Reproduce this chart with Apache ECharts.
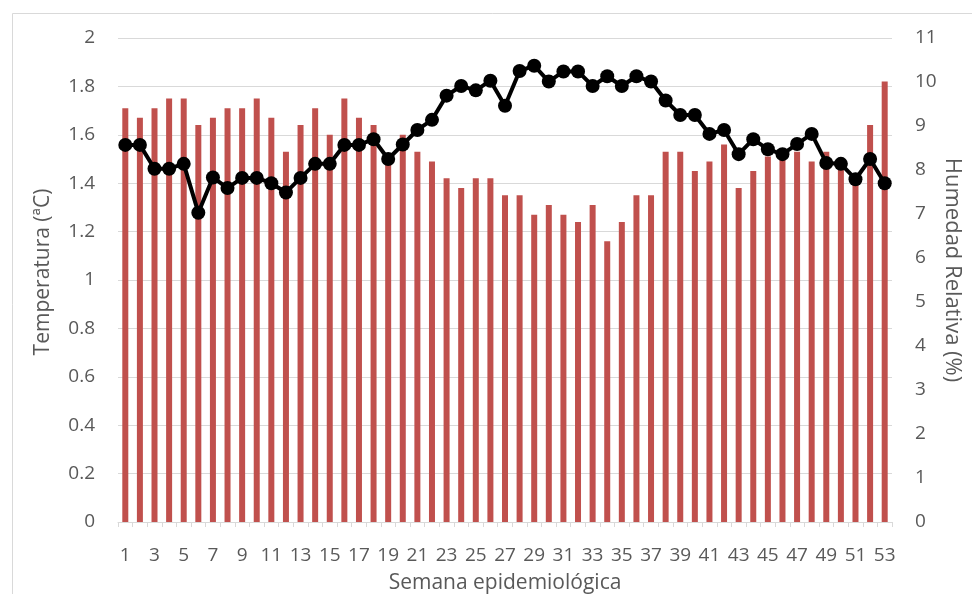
<!DOCTYPE html>
<html>
<head>
<meta charset="utf-8">
<script src="https://cdn.jsdelivr.net/npm/echarts@6/dist/echarts.min.js"></script>
<style>html,body{margin:0;padding:0;background:#fff;}#c{width:972px;height:594px;}</style>
</head>
<body>
<div id="c"></div>
<script>
var weeks = [];
for (var i = 1; i <= 53; i++) weeks.push(String(i));
var temperatura = [1.71,1.67,1.71,1.75,1.75,1.64,1.67,1.71,1.71,1.75,
  1.67,1.53,1.64,1.71,1.60,1.75,1.67,1.64,1.50,1.60,
  1.53,1.49,1.42,1.38,1.42,1.42,1.35,1.35,1.27,1.31,
  1.27,1.24,1.31,1.16,1.24,1.35,1.35,1.53,1.53,1.45,
  1.49,1.56,1.38,1.45,1.51,1.50,1.53,1.49,1.53,1.49,
  1.42,1.64,1.82];
var humedad = [8.57,8.57,8.03,8.03,8.14,7.03,7.83,7.59,7.82,7.82,
  7.70,7.49,7.82,8.14,8.14,8.57,8.57,8.70,8.25,8.58,
  8.91,9.14,9.69,9.91,9.81,10.03,9.46,10.25,10.37,10.01,
  10.24,10.24,9.91,10.13,9.91,10.13,10.01,9.58,9.25,9.25,
  8.82,8.91,8.36,8.70,8.47,8.36,8.59,8.82,8.16,8.14,
  7.79,8.25,7.70];
var xTitle = 'Semana epidemiológica';
var yLeftTitle = 'Temperatura (ªC)';
var yRightTitle = 'Humedad Relativa (%)';

var FONT = 'Open Sans';
var TXT = '#595959';
var chart = echarts.init(document.getElementById('c'), null, {renderer: 'canvas'});
chart.setOption({
  animation: false,
  backgroundColor: '#ffffff',
  textStyle: {fontFamily: FONT},
  graphic: [{
    type: 'rect', left: 10, top: 11, silent: true, z: -10,
    shape: {width: 1000, height: 620},
    style: {fill: 'none', stroke: '#d9d9d9', lineWidth: 1}
  }, {
    type: 'text', x: 43, y: 272, rotation: Math.PI / 2, silent: true,
    style: {text: yLeftTitle, fill: TXT, font: '21px "Open Sans"',
      align: 'center', verticalAlign: 'middle', textAlign: 'center', textVerticalAlign: 'middle'}
  }, {
    type: 'text', x: 952, y: 270, rotation: -Math.PI / 2, silent: true,
    style: {text: yRightTitle, fill: TXT, font: '22px "Open Sans"',
      align: 'center', verticalAlign: 'middle', textAlign: 'center', textVerticalAlign: 'middle'}
  }],
  grid: {left: 118, right: 80, top: 38, bottom: 72, containLabel: false, outerBoundsMode: 'none'},
  xAxis: {
    type: 'category',
    data: weeks,
    name: xTitle,
    nameLocation: 'middle',
    nameGap: 51,
    nameTextStyle: {color: TXT, fontSize: 21, fontFamily: FONT},
    axisLine: {lineStyle: {color: '#d9d9d9', width: 1}},
    axisTick: {show: true, interval: 0, length: 5, lineStyle: {color: '#d9d9d9'}},
    axisLabel: {interval: 1, color: TXT, fontSize: 19, fontFamily: FONT, margin: 24},
    splitLine: {show: false}
  },
  yAxis: [{
    type: 'value', min: 0, max: 2, interval: 0.2,
    axisLine: {show: false}, axisTick: {show: false},
    axisLabel: {color: TXT, fontSize: 19, fontFamily: FONT, margin: 23},
    splitLine: {lineStyle: {color: '#d9d9d9', width: 1}}
  }, {
    type: 'value', min: 0, max: 11, interval: 1,
    axisLine: {show: false}, axisTick: {show: false},
    axisLabel: {color: TXT, fontSize: 19, fontFamily: FONT, margin: 23},
    splitLine: {show: false}
  }],
  series: [{
    name: 'Temperatura',
    type: 'bar',
    yAxisIndex: 0,
    data: temperatura,
    barWidth: 6,
    itemStyle: {color: '#C0504D'}
  }, {
    name: 'Humedad',
    type: 'line',
    yAxisIndex: 1,
    data: humedad,
    symbol: 'circle',
    symbolSize: 14,
    showAllSymbol: true,
    lineStyle: {color: '#000000', width: 4},
    itemStyle: {color: '#000000'},
    z: 5
  }]
});
</script>
</body>
</html>
